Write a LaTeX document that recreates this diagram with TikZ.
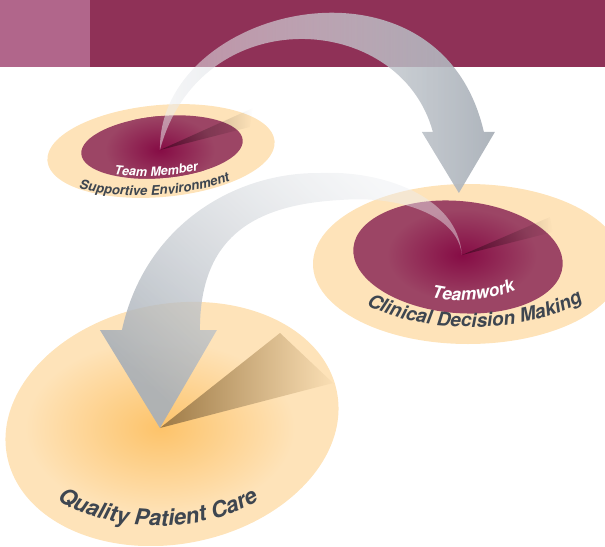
\documentclass[tikz,border=0pt]{standalone}
\usepackage{fontspec}
\usepackage{xcolor}
\usepackage{tikz}
\usetikzlibrary{decorations.text,fadings,calc}

\newfontfamily\arcfont{TeX Gyre Heros}

\definecolor{bandwine}{HTML}{8F3157}
\definecolor{bandpink}{HTML}{B1668B}
\definecolor{peach}{HTML}{FEE3B9}
\definecolor{discwine}{HTML}{9C4565}
\definecolor{glowwine}{HTML}{860C45}
\definecolor{glowamber}{HTML}{FDC36A}
\definecolor{shadowbrown}{HTML}{9E7A45}
\definecolor{slate}{HTML}{3E4650}
\definecolor{arrowlight}{HTML}{ECEEF1}
\definecolor{arrowdark}{HTML}{A9B0B8}

\tikzfading[name=fade sweep right, left color=transparent!50, right color=transparent!5]
\tikzfading[name=fade sweep down, top color=transparent!55, bottom color=transparent!8]
\tikzfading[name=fade wedge, left color=transparent!62, right color=transparent!100]

\begin{document}
\begin{tikzpicture}
    [x=0.025cm, y=-0.025cm,
    ring/.style={fill=peach},
    disc/.style={fill=discwine},
    wedge/.style={fill=black, path fading=fade wedge},
    arclabel/.style 2 args={decorate, decoration={text along path, text align=center,
        text color=#1, text={#2}}}]

    \useasboundingbox (0,0) rectangle (605,546);

    \coordinate (smallc) at (160,150);
    \coordinate (midc) at (462,255);
    \coordinate (bigc) at (160,428);

    % header band
    \fill[bandwine] (0,0) rectangle (605,67);
    \fill[bandpink] (0,0) rectangle (90,67);

    % Team Member / Supportive Environment
    \fill[ring, rotate around={5:(161,151)}] (161,151) ellipse (114 and 46);
    \begin{scope}
        \clip[rotate around={5:(162,147)}] (162,147) ellipse (81 and 31);
        \fill[disc] (0,0) rectangle (605,546);
        \path[inner color=glowwine, outer color=discwine] (smallc) ellipse (55 and 34);
    \end{scope}
    \path[wedge] (smallc) -- (253,108) -- (250,127) -- cycle;

    % Teamwork / Clinical Decision Making
    \fill[ring] (468,264) ellipse (155 and 80);
    \begin{scope}
        \clip[rotate around={-5:(458,257)}] (458,257) ellipse (105 and 56);
        \fill[disc] (0,0) rectangle (605,546);
        \path[inner color=glowwine, outer color=discwine] (midc) ellipse (75 and 46);
    \end{scope}
    \path[wedge] (midc) -- (550,217) -- (553,232) -- cycle;

    % Quality Patient Care
    \begin{scope}
        \clip[rotate around={11:(172,424)}] (172,424) ellipse (168 and 120);
        \fill[ring] (0,0) rectangle (605,546);
        \path[inner color=glowamber, outer color=peach] (bigc) ellipse (135 and 88);
        \path[left color=shadowbrown, middle color=peach!72!shadowbrown, right color=peach!96!shadowbrown]
            (bigc) -- (280,333) -- (333,383) -- cycle;
    \end{scope}

    % arrows
    \path[left color=arrowlight, right color=arrowdark, path fading=fade sweep right]
        (smallc) .. controls (158,5) and (440,-60) .. (484,132)
        -- (495,132) -- (459,193) -- (422,132) -- (433,132)
        .. controls (400,10) and (200,0) .. (smallc) -- cycle;
    \path[top color=arrowlight, bottom color=arrowdark, shading angle=-45,
          path fading=fade sweep down, fading angle=-45]
        (midc) .. controls (458,195) and (380,170) .. (320,173)
        .. controls (235,172) and (145,225) .. (122,330)
        -- (100,330) -- (bigc) -- (217,330) -- (200,330)
        .. controls (200,240) and (250,205) .. (340,200)
        .. controls (400,195) and (458,215) .. (midc) -- cycle;

    % labels
    \path[rotate around={3:(155,146)}, arclabel={white}{|\arcfont\bfseries\itshape\fontsize{9}{9}\selectfont|Team Member}]
        ($(155,146)+(180:90 and 30)$) arc[start angle=180, end angle=0, x radius=90, y radius=30];
    \path[rotate around={3:(153,153)}, arclabel={slate}{|\arcfont\bfseries\itshape\fontsize{9.4}{10}\selectfont|Supportive Environment}]
        ($(153,153)+(180:115 and 42)$) arc[start angle=180, end angle=0, x radius=115, y radius=42];
    \path[rotate around={5:(469,240)}, arclabel={white}{|\arcfont\bfseries\itshape\fontsize{12.4}{13}\selectfont|Teamwork}]
        ($(469,240)+(180:95 and 60)$) arc[start angle=180, end angle=0, x radius=95, y radius=60];
    \path[rotate around={1:(474,262)}, arclabel={slate}{|\arcfont\bfseries\itshape\fontsize{13.6}{14}\selectfont|Clinical Decision Making}]
        ($(474,262)+(180:140 and 65)$) arc[start angle=180, end angle=0, x radius=140, y radius=65];
    \path[arclabel={slate}{|\arcfont\bfseries\itshape\fontsize{15.8}{16}\selectfont|Quality Patient Care}]
        ($(158,426)+(180:150 and 100)$) arc[start angle=180, end angle=0, x radius=150, y radius=100];
\end{tikzpicture}
\end{document}
